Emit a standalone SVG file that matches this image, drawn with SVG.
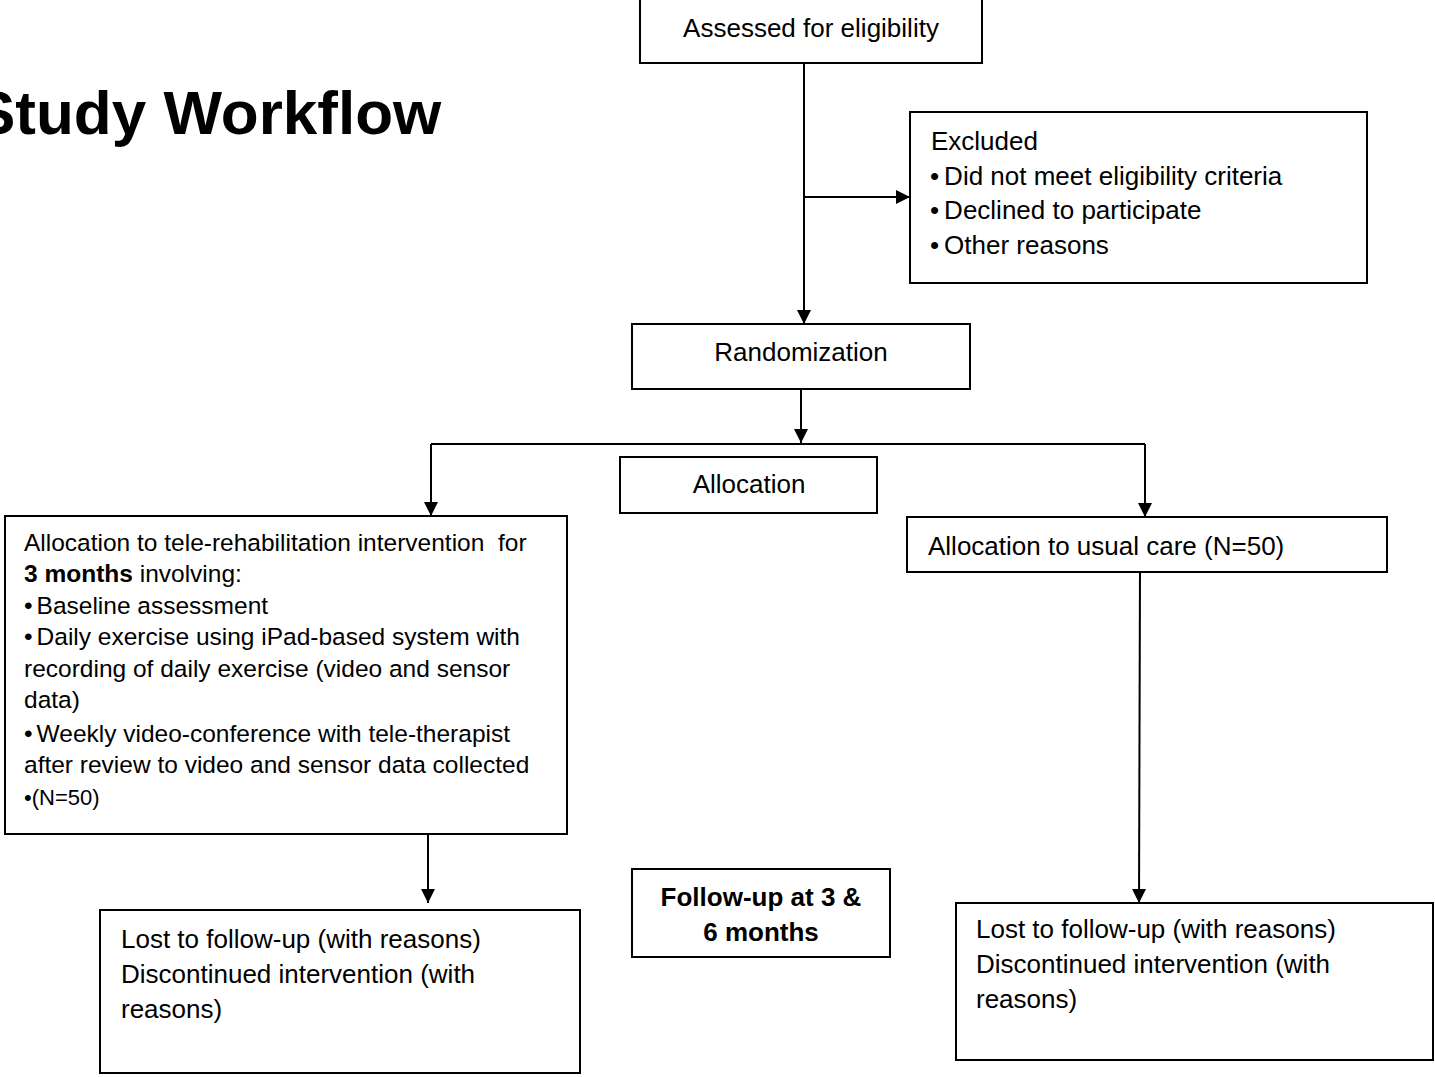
<svg xmlns="http://www.w3.org/2000/svg" width="1435" height="1077" viewBox="0 0 1435 1077">
<defs>
<marker id="arr" viewBox="0 0 10 10" refX="10" refY="5" markerWidth="15" markerHeight="14" markerUnits="userSpaceOnUse" orient="auto">
<path d="M0,0 L10,5 L0,10 z" fill="#000"/>
</marker>
</defs>
<style>
.box{fill:#fff;stroke:#000;stroke-width:2}
.t{font-family:"Liberation Sans",Arial,sans-serif;font-size:26px;fill:#000}
.c{text-anchor:middle}
.s{font-size:24.5px}
.b{font-weight:bold}
.ln{fill:none;stroke:#000;stroke-width:2}
</style>
<rect width="1435" height="1077" fill="#fff"/>
<text x="-26" y="134" class="t b" style="font-size:62px">Study Workflow</text>

<g id="connectors">
<line class="ln" x1="804" y1="63" x2="804" y2="324" marker-end="url(#arr)"/>
<line class="ln" x1="804" y1="197" x2="910" y2="197" marker-end="url(#arr)"/>
<line class="ln" x1="801" y1="389" x2="801" y2="443" marker-end="url(#arr)"/>
<polyline class="ln" points="431,444 1145,444"/>
<line class="ln" x1="431" y1="444" x2="431" y2="516" marker-end="url(#arr)"/>
<line class="ln" x1="1145" y1="444" x2="1145" y2="517" marker-end="url(#arr)"/>
<line class="ln" x1="428" y1="834" x2="428" y2="903" marker-end="url(#arr)"/>
<line class="ln" x1="1140" y1="569" x2="1139" y2="903" marker-end="url(#arr)"/>
</g>

<g id="assessed">
<rect class="box" x="640" y="-1" width="342" height="64"/>
<text class="t c" x="811" y="37">Assessed for eligibility</text>
</g>

<g id="excluded">
<rect class="box" x="910" y="112" width="457" height="171"/>
<text class="t" x="931" y="150">Excluded</text>
<text class="t" x="930" y="185">•<tspan dx="5">Did not meet eligibility criteria</tspan></text>
<text class="t" x="930" y="219">•<tspan dx="5">Declined to participate</tspan></text>
<text class="t" x="930" y="254">•<tspan dx="5">Other reasons</tspan></text>
</g>

<g id="randomization">
<rect class="box" x="632" y="324" width="338" height="65"/>
<text class="t c" x="801" y="361">Randomization</text>
</g>

<g id="allocation">
<rect class="box" x="620" y="457" width="257" height="56"/>
<text class="t c" x="749" y="493">Allocation</text>
</g>

<g id="intervention">
<rect class="box" x="5" y="516" width="562" height="318"/>
<text class="t s" x="24" y="551">Allocation to tele-rehabilitation intervention&#160; for</text>
<text class="t s" x="24" y="582"><tspan class="b">3 months</tspan> involving:</text>
<text class="t s" x="24" y="614">•<tspan dx="4">Baseline assessment</tspan></text>
<text class="t s" x="24" y="645">•<tspan dx="4">Daily exercise using iPad-based system with</tspan></text>
<text class="t s" x="24" y="677">recording of daily exercise (video and sensor</text>
<text class="t s" x="24" y="708">data)</text>
<text class="t s" x="24" y="742">•<tspan dx="4">Weekly video-conference with tele-therapist</tspan></text>
<text class="t s" x="24" y="773">after review to video and sensor data collected</text>
<text class="t" x="24" y="805" style="font-size:22px">•(N=50)</text>
</g>

<g id="usualcare">
<rect class="box" x="907" y="517" width="480" height="55"/>
<text class="t" x="928" y="555">Allocation to usual care (N=50)</text>
</g>

<g id="lost-left">
<rect class="box" x="100" y="910" width="480" height="163"/>
<text class="t" x="121" y="948">Lost to follow-up (with reasons)</text>
<text class="t" x="121" y="983">Discontinued intervention (with</text>
<text class="t" x="121" y="1018">reasons)</text>
</g>

<g id="followup">
<rect class="box" x="632" y="869" width="258" height="88"/>
<text class="t c b" x="761" y="906">Follow-up at 3 &amp;</text>
<text class="t c b" x="761" y="941">6 months</text>
</g>

<g id="lost-right">
<rect class="box" x="956" y="903" width="477" height="157"/>
<text class="t" x="976" y="938">Lost to follow-up (with reasons)</text>
<text class="t" x="976" y="973">Discontinued intervention (with</text>
<text class="t" x="976" y="1008">reasons)</text>
</g>
</svg>
